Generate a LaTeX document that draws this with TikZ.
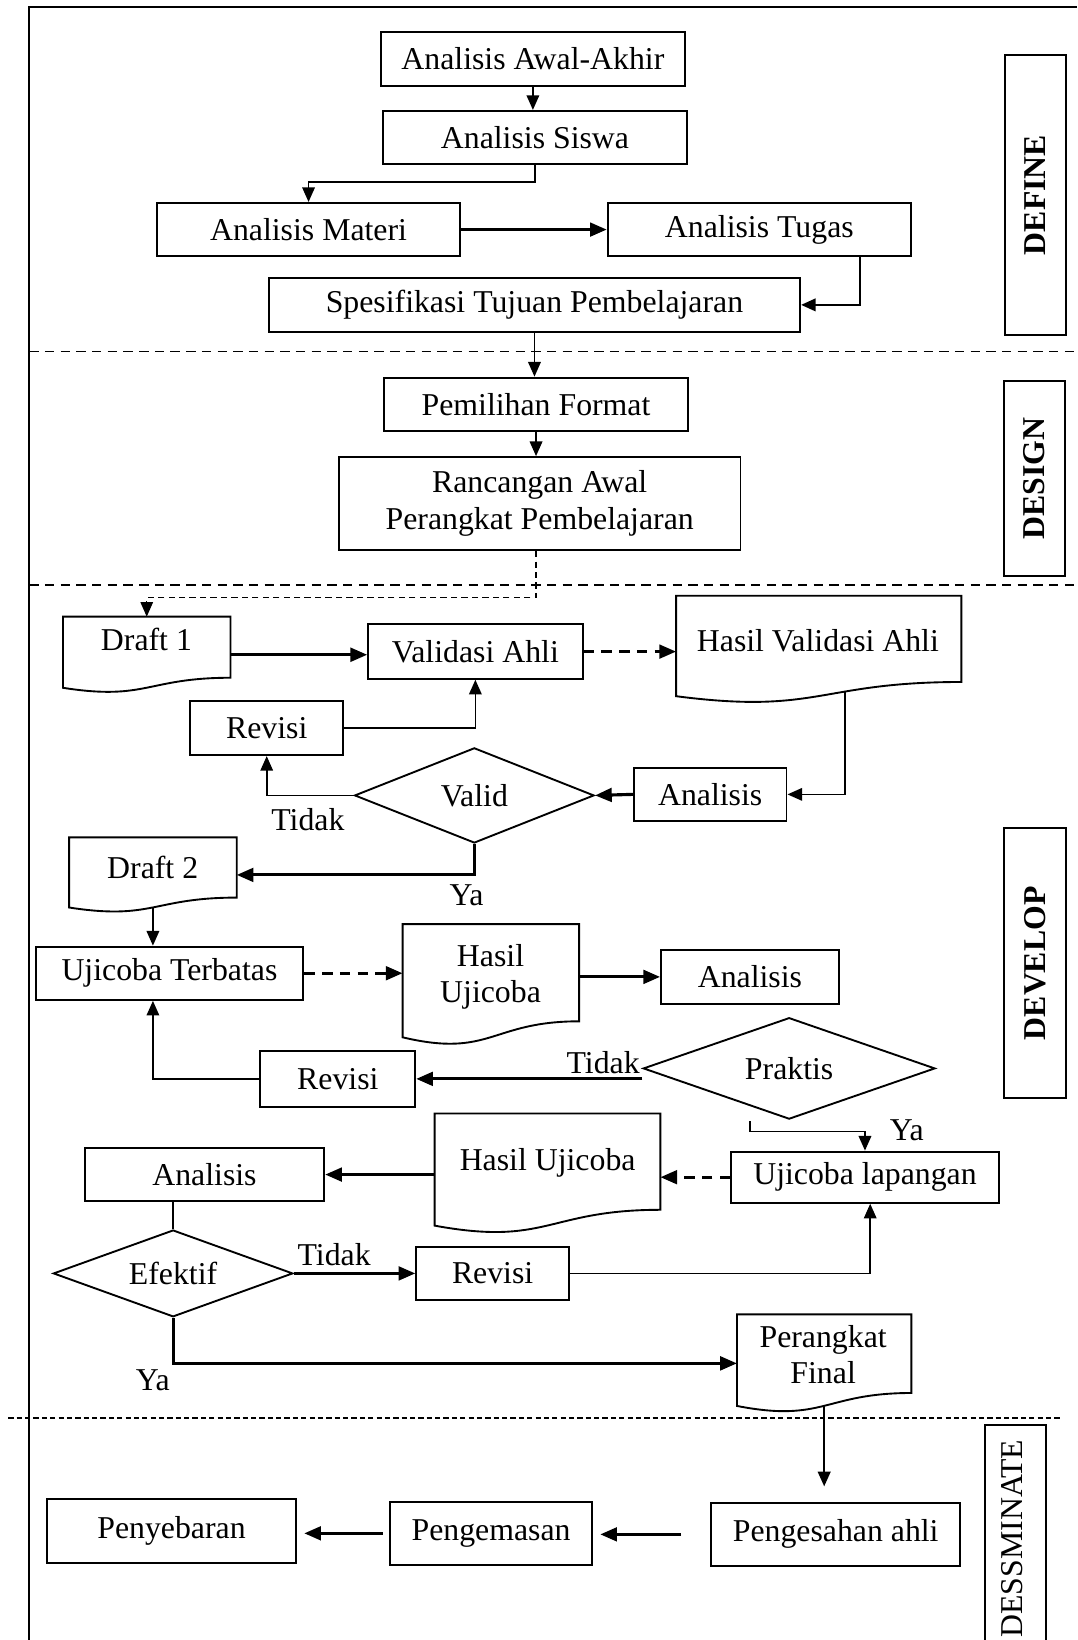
\documentclass[tikz,border=0pt]{standalone}
\usepackage{fontspec}
\setmainfont{Liberation Serif}
\usetikzlibrary{calc,arrows.meta,shapes.geometric}
\newcommand\bx[6]{\node[bx, minimum width={(#4-(#2))*0.5pt}, minimum height={(#5-(#3))*0.5pt}] (#1) at ({((#2)+(#4))/2},{((#3)+(#5))/2}) {#6};}
\newcommand\docnode[6]{%
  \node[inner sep=0pt, minimum width={(#4-(#2))*0.5pt}, minimum height={(#5)*0.5pt}] (#1) at ({((#2)+(#4))/2},{(#3)+(#5)/2}) {};
  \draw[bxl] (#1.north west) -- (#1.north east) -- ($(#1.north east)!0.802!(#1.south east)$)
    .. controls ($(#1.north)!0.802!(#1.south)$) and ($(#1.north)!1.107!(#1.south)$) ..
    ($(#1.north west)!0.934!(#1.south west)$) coordinate[pos=#6] (#1-b) -- cycle;}
\begin{document}
\begin{tikzpicture}[x=0.5pt,y=-0.5pt,
  font=\fontsize{15.2}{17.5}\selectfont,
  bxl/.style={line width=0.9pt},
  bx/.style={draw, bxl, inner sep=0pt, align=center},
  ln/.style={line width=0.8pt},
  tk/.style={line width=1.5pt},
  arr/.style={ln, -{Triangle[length=7pt,width=6pt]}},
  tarr/.style={tk, -{Triangle[length=8pt,width=6.5pt]}},
  dsh/.style={dash pattern=on 5pt off 3.5pt},
  thindsh/.style={dash pattern=on 3pt off 2pt},
  dia/.style={draw, bxl, shape=diamond, inner sep=0pt, aspect=2.8},
  lbl/.style={inner sep=0pt},
  sec/.style={line width=0.8pt, dash pattern=on 4.5pt off 3pt}
]
\useasboundingbox (0,0) rectangle (1030,1568);

% frame and section lines
\draw[line width=1pt] (28,1568) -- (28,6.5) -- (1030,6.5);
\draw[sec] (28,336) -- (1030,336);
\draw[sec] (28,559.5) -- (1030,559.5);
\draw[line width=0.8pt, dash pattern=on 2.5pt off 1.5pt] (8,1355.5) -- (1014,1355.5);

% DEFINE
\bx{aaa}{364}{31}{655}{82}{Analisis Awal-Akhir}
\bx{asw}{366}{106}{657}{157}{Analisis Siswa}
\bx{amt}{150}{194}{440}{245}{Analisis Materi}
\bx{atg}{581}{194}{871}{245}{Analisis Tugas}
\bx{stp}{257}{266}{765}{317}{Spesifikasi Tujuan Pembelajaran}
\bx{ldef}{961}{53}{1019}{320}{\rotatebox{90}{\bfseries DEFINE}}
\draw[arr] (aaa.south) -- (aaa.south |- asw.north);
\draw[arr] (asw.south) -- ++(0,16) -| (amt.north);
\draw[tarr] (amt.east) -- (atg.west);
\draw[arr, line width=1.1pt] ($(atg.south west)!0.83!(atg.south east)$) |- (stp.east);

% DESIGN
\bx{pf}{367}{361}{658}{412}{Pemilihan Format}
\bx{rap}{324}{437}{708}{526}{Rancangan Awal\\Perangkat Pembelajaran}
\bx{ldes}{960}{364}{1018}{551}{\rotatebox{90}{\bfseries DESIGN}}
\draw[arr] (stp.south) -- (stp.south |- pf.north);
\draw[arr] (pf.south) -- (pf.south |- rap.north);

% DEVELOP
\docnode{d1}{60.6}{590}{220}{72}{0.5}
\node (d1t) at (140,611) {Draft 1};
\draw[arr, line width=0.6pt, thindsh] (pf.south |- rap.south) -- ++(0,44.6) -| (d1.north);
\bx{va}{352}{597}{557}{649}{Validasi Ahli}
\docnode{hva}{646.8}{570}{918.8}{102}{0.38}
\node (hvat) at (782,613) {Hasil Validasi Ahli};
\bx{rv1}{182}{670}{328}{722}{Revisi}
\node[dia, minimum width={229*0.5pt}, minimum height={91*0.5pt}] (valid) at (453.5,760.5) {Valid};
\bx{an1}{606}{734}{752}{785}{Analisis}
\draw[tarr] (d1.east) -- (d1.east -| va.west);
\draw[tarr, dsh] (va.east) -- (va.east -| hva.west);
\draw[arr] (rv1.east) -| (va.south);
\draw[arr] (hva-b) |- (an1.east);
\draw[tarr] (an1.west) -- (valid.east);
\draw[arr] (valid.west) -| (rv1.south);
\node[lbl] (tidak1) at (294.4,783.6) {Tidak};
\docnode{d2}{66.5}{801}{225.9}{71}{0.5}
\node (d2t) at (146,829.5) {Draft 2};
\draw[tarr] (valid.south) |- (d2.east);
\node[lbl] (ya1) at (446,856) {Ya};
\bx{ujt}{34}{905}{290}{956}{Ujicoba Terbatas}
\draw[arr] (d2-b) -- (d2-b |- ujt.north);
\docnode{hu1}{385.3}{884}{553.3}{115}{0.5}
\node[align=center] (hu1t) at (469,934) {Hasil\\Ujicoba};
\bx{an2}{632}{908}{802}{960}{Analisis}
\draw[tarr, dsh] (ujt.east) -- (ujt.east -| hu1.west);
\draw[tarr] (an2.west -| hu1.east) -- (an2.west);
\node[dia, minimum width={279*0.5pt}, minimum height={97*0.5pt}] (prk) at (754.5,1021.5) {Praktis};
\bx{rv2}{249}{1005}{397}{1058}{Revisi}
\draw[tarr] (prk.west |- rv2.east) -- (rv2.east);
\node[lbl, anchor=base east] (tidak2) at (612,1026) {Tidak};
\draw[arr] (rv2.west) -| (ujt.south -| d2-b);
\bx{ujl}{699}{1101}{955}{1150}{Ujicoba lapangan}
\coordinate (pyes) at (717,1072);
\draw[arr] (pyes) -- ++(0,9.7) -| (ujl.north);
\node[lbl] (ya2) at (867,1081) {Ya};
\docnode{hu2}{416}{1065}{631}{114}{0.5}
\node (hu2t) at (523.6,1112) {Hasil Ujicoba};
\bx{an3}{81}{1098}{310}{1148}{Analisis}
\draw[tarr, dsh] (ujl.west) -- (ujl.west -| hu2.east);
\draw[tarr] (hu2.west |- an3.east) -- (an3.east);
\node[dia, minimum width={229*0.5pt}, minimum height={83*0.5pt}] (eft) at (165.5,1217.5) {Efektif};
\draw[ln] (eft.north |- an3.south) -- (eft.north);
\bx{rv3}{398}{1192}{544}{1243}{Revisi}
\draw[tarr] (eft.east) -- (rv3.west);
\node[lbl] (tidak3) at (319.5,1199.4) {Tidak};
\draw[arr] (rv3.east) -| ([xshift=2.5pt]ujl.south);
\docnode{pfin}{705}{1257}{871}{93}{0.5}
\node[align=center] (pfint) at (787,1295) {Perangkat\\Final};
\draw[tarr] (eft.south) |- (pfin.west);
\node[lbl] (ya3) at (146,1320) {Ya};
\bx{ldev}{960}{792}{1019}{1050}{\rotatebox{90}{\bfseries DEVELOP}}

% DISSEMINATE
\bx{pa}{680}{1437}{918}{1497}{Pengesahan ahli}
\bx{pg}{373}{1436}{566}{1496}{Pengemasan}
\bx{py}{45}{1433}{283}{1494}{Penyebaran}
\draw[arr, line width=1pt, shorten >=7.5pt] (pfin-b) -- (pfin-b |- pa.north);
\draw[tarr, shorten <=14pt, shorten >=3.5pt] (pa.west) -- (pa.west -| pg.east);
\draw[tarr, shorten <=3pt, shorten >=3.5pt] (pg.west) -- (pg.west -| py.east);
\draw[bxl] (942,1568) -- (942,1362) -- (1000,1362) -- (1000,1568);
\node[rotate=90] (ldis) at (968,1471) {DESSMINATE};
\end{tikzpicture}
\end{document}
